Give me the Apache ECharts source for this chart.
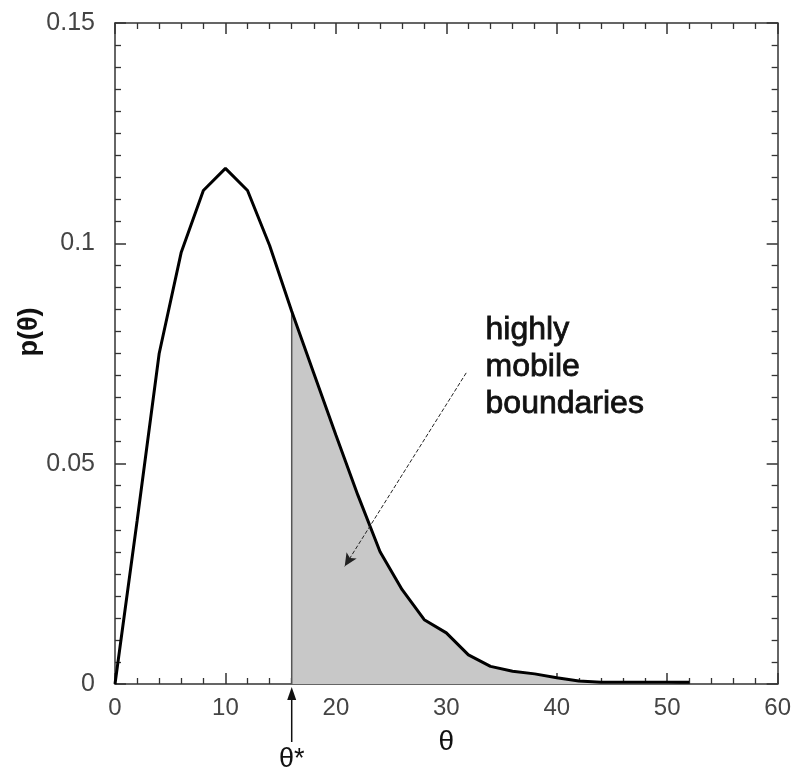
<!DOCTYPE html>
<html><head><meta charset="utf-8">
<script src="https://cdn.jsdelivr.net/npm/echarts@6/dist/echarts.min.js"></script>
<style>html,body{margin:0;padding:0;background:#fff}#c{width:794px;height:775px}</style>
</head><body><div id="c"></div>
<script>
// ---- data ----
const theta = [0,2,4,6,8,10,12,14,16,18,20,22,24,26,28,30,32,34,36,38,40,42,44,46,48,50,52];
const prob  = [0,0.037,0.075,0.098,0.112,0.117,0.112,0.0995,0.0846,0.0705,0.0565,0.0428,0.030,0.0214,0.0146,0.0116,0.0066,0.0040,0.0029,0.0023,0.0014,0.0007,0.0004,0.0004,0.0004,0.0004,0.0004];
const thetaStar = 16;
const xTickValues = [0,10,20,30,40,50,60];
const yTickValues = [0,0.05,0.1,0.15];
const annotationText = ['highly','mobile','boundaries'];
const annotationArrowFrom = [31.8, 0.0706];
const annotationArrowTo = [20.8, 0.0267];
const annotationTextAt = [33.55, 0.0846];

const curve = theta.map((t,i)=>[t, prob[i]]);
const shaded = curve.filter(d=>d[0] >= thetaStar);
const pStar = prob[theta.indexOf(thetaStar)];

const FONT = '"Liberation Sans", Arial, Helvetica, sans-serif';
const frameColor = '#333';
function axisBase(){
  return {
    type:'value',
    axisLine:{show:true, onZero:false, lineStyle:{color:frameColor, width:1.5}},
    axisTick:{show:true, inside:true, length:11, lineStyle:{color:frameColor, width:1.5}},
    minorTick:{show:true, length:6, lineStyle:{color:frameColor, width:1.3}},
    splitLine:{show:false},
    minorSplitLine:{show:false}
  };
}
const xMain = Object.assign(axisBase(), {
  position:'bottom', min:xTickValues[0], max:xTickValues[xTickValues.length-1], interval:10,
  axisLabel:{show:true, margin:12, color:'#444', fontSize:24, fontFamily:FONT},
  name:'θ', nameLocation:'middle', nameGap:44,
  nameTextStyle:{color:'#111', fontSize:28, fontFamily:FONT}
});
xMain.minorTick.splitNumber = 5;
const xTop = Object.assign(axisBase(), {position:'top', min:0, max:60, interval:10, axisLabel:{show:false}});
xTop.minorTick.splitNumber = 5;
const yMain = Object.assign(axisBase(), {
  position:'left', min:yTickValues[0], max:yTickValues[yTickValues.length-1], interval:0.05,
  axisLabel:{show:true, margin:20, color:'#444', fontSize:25, fontFamily:FONT,
    formatter:v=>String(+v.toFixed(3))}
});
yMain.minorTick.splitNumber = 10;
const yRight = Object.assign(axisBase(), {position:'right', min:0, max:0.15, interval:0.05, axisLabel:{show:false}});
yRight.minorTick.splitNumber = 10;

const chart = echarts.init(document.getElementById('c'), null, {renderer:'canvas'});
chart.setOption({
  animation:false,
  backgroundColor:'#fff',
  grid:{left:115, right:15, top:23, bottom:91, containLabel:false},
  xAxis:[xMain, xTop],
  yAxis:[yMain, yRight],
  series:[
    {type:'line', data:shaded, symbol:'none', lineStyle:{width:0, opacity:0},
     areaStyle:{color:'#c8c8c8', opacity:1}, z:1},
    {type:'line', data:[[thetaStar,0],[thetaStar,pStar]], symbol:'none',
     lineStyle:{color:'#555', width:1.5}, z:2},
    {type:'line', data:curve, symbol:'none', lineStyle:{color:'#000', width:3}, z:3,
     markLine:{silent:true, symbol:['none','arrow'], symbolSize:[9,13],
       label:{show:false},
       lineStyle:{color:'#222', width:1, type:[4,2]},
       data:[[{coord:annotationArrowFrom},{coord:annotationArrowTo}]]}}
  ]
});

// annotations placed through the chart's own coordinate system
const toPx = d => chart.convertToPixel({gridIndex:0}, d);
const starBase = toPx([thetaStar, 0]);
const txtPos = toPx(annotationTextAt);
chart.setOption({
  graphic:[
    {type:'line', shape:{x1:starBase[0], y1:starBase[1]+58, x2:starBase[0], y2:starBase[1]+12},
     style:{stroke:'#111', lineWidth:1.5}},
    {type:'polygon', shape:{points:[[starBase[0], starBase[1]+3],[starBase[0]-4.5, starBase[1]+16],[starBase[0]+4.5, starBase[1]+16]]},
     style:{fill:'#111'}},
    {type:'text', x:starBase[0], y:starBase[1]+76,
     style:{text:'θ*', fill:'#111', font:'27px ' + FONT, align:'center', verticalAlign:'middle'}},
    {type:'text', x:txtPos[0], y:txtPos[1],
     style:{text:annotationText.join('\n'), fill:'#111', stroke:'#111', lineWidth:0.8,
       font:'32px ' + FONT, lineHeight:37, align:'left', verticalAlign:'top'}},
    {type:'text', x:30, y:332, rotation:Math.PI/2,
     style:{text:'p(θ)', fill:'#111', font:'bold 27px ' + FONT, align:'center', verticalAlign:'middle'}}
  ]
});
</script></body></html>
